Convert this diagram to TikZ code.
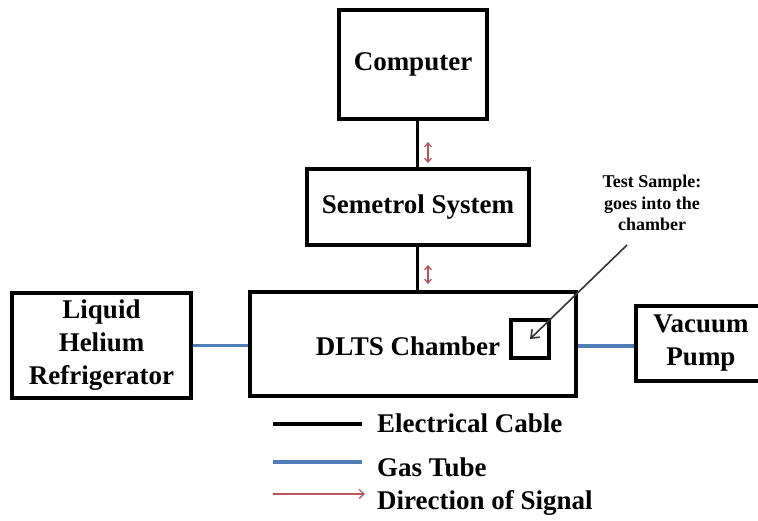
\documentclass[tikz,border=0pt]{standalone}
\usepackage{fontspec}
\setmainfont{Liberation Serif}
\usetikzlibrary{arrows.meta,calc}
\definecolor{gasblue}{HTML}{4F7DB5}
\definecolor{sigred}{HTML}{B5565A}
\definecolor{ptrgray}{HTML}{333333}
\tikzset{
  box/.style={draw=black, line width=3.2pt, align=center, inner sep=0pt,
    font=\fontsize{27}{33}\selectfont\bfseries},
  lbl/.style={inner sep=0pt, font=\fontsize{27}{33}\selectfont\bfseries},
  cable/.style={draw=black, line width=3pt},
  gas/.style={draw=gasblue, line width=3.2pt},
  sig/.style={draw=sigred, line width=1.2pt, {Straight Barb[length=4pt,width=7pt]}-{Straight Barb[length=4pt,width=7pt]}},
  sigone/.style={draw=sigred, line width=1.2pt, -{Straight Barb[length=5pt,width=9pt]}},
  ptr/.style={draw=ptrgray, line width=1.6pt, -{Straight Barb[length=7pt,width=11pt]}},
}
\begin{document}
\begin{tikzpicture}[x=1pt,y=-1pt]
\useasboundingbox (0,0) rectangle (758,521);
\fill[white] (0,0) rectangle (758,521);

\node[box, minimum width=148pt, minimum height=109pt] (comp) at (413,64.5) {Computer};
\node[box, minimum width=222pt, minimum height=76pt] (sem) at (418,207) {Semetrol System};
\node[box, minimum width=326pt, minimum height=104pt] (dlts) at (413,344) {};
\node[lbl] (dltstext) at (408,346) {DLTS Chamber};
\node[box, minimum width=38pt, minimum height=38pt] (sample) at (530,339) {};
\node[box, minimum width=179pt, minimum height=105pt] (lhe) at (101.5,345.5) {Liquid\\Helium\\Refrigerator};
\node[box, minimum width=130pt, minimum height=75pt] (vac) at (701,343.5) {Vacuum\\Pump};

\node[inner sep=0pt, align=center, font=\fontsize{18}{21.5}\selectfont\bfseries] (note) at (652,203) {Test Sample:\\goes into the\\chamber};

% cables
\coordinate (v) at (417,0);
\draw[cable] (comp.south -| v) -- (sem.north -| v);
\draw[cable] (sem.south -| v) -- (dlts.north -| v);

% signal arrows
\coordinate (s1a) at (428,142);
\coordinate (s1b) at (428,163);
\coordinate (s2a) at (428,265);
\coordinate (s2b) at (428,284);
\draw[sig] (s1a) -- (s1b);
\draw[sig] (s2a) -- (s2b);

% gas tubes
\draw[gas] (lhe.east) -- (dlts.west |- lhe.east);
\draw[gas] (dlts.east |- 0,346) -- (vac.west |- 0,346);

% pointer
\coordinate (ptop) at (627,245);
\draw[ptr] (ptop) -- (sample.center);

% legend
\coordinate (l1a) at (273,424); \coordinate (l1b) at (362,424);
\coordinate (l2a) at (273,462); \coordinate (l2b) at (362,462);
\coordinate (l3a) at (273,494); \coordinate (l3b) at (365,494);
\draw[cable, line width=3.2pt] (l1a) -- (l1b);
\draw[gas] (l2a) -- (l2b);
\draw[sigone] (l3a) -- (l3b);
\node[lbl, anchor=west] (t1) at (377,423) {Electrical Cable};
\node[lbl, anchor=west] (t2) at (377,467) {Gas Tube};
\node[lbl, anchor=west] (t3) at (377,503) {Direction of Signal};
\end{tikzpicture}
\end{document}
